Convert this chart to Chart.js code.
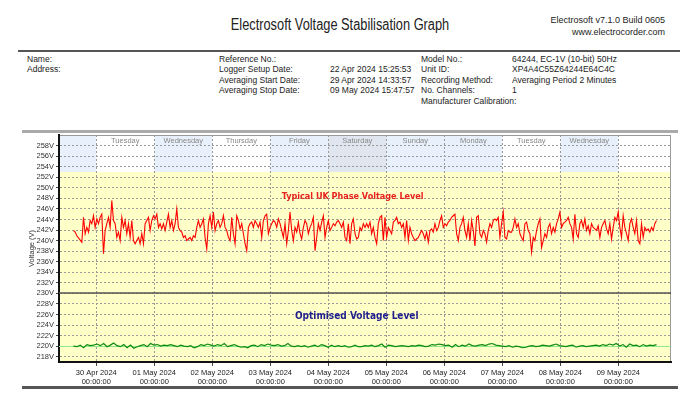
<!DOCTYPE html>
<html>
<head>
<meta charset="utf-8">
<script src="https://cdn.jsdelivr.net/npm/chart.js@4.4.1/dist/chart.umd.min.js"></script>
<style>
  body { margin: 0; background: #fff; width: 700px; height: 412px; overflow: hidden; position: relative;
         font-family: "Liberation Sans", Arial, sans-serif; color: #222; }
  #chart { position: absolute; left: 0; top: 0; }
  .t { position: absolute; font-size: 8.5px; line-height: 10px; white-space: nowrap; }
  .rule { position: absolute; }
  #title { position: absolute; left: 190px; width: 300px; top: 16px; text-align: center; font-size: 16px;
           transform: scaleX(0.8); transform-origin: 150px 0; }
</style>
</head>
<body>
<div id="title">Electrosoft Voltage Stabilisation Graph</div>
<div class="t" style="right:35px;top:15px;text-align:right;font-size:9px">Electrosoft v7.1.0 Build 0605</div>
<div class="t" style="right:35px;top:27px;text-align:right;font-size:9px">www.electrocorder.com</div>
<div class="rule" style="left:18px;width:662px;top:50px;height:2px;background:#555"></div>

<div class="t" style="left:27px;top:54px">Name:</div>
<div class="t" style="left:27px;top:64px">Address:</div>
<div class="t" style="left:219px;top:54px">Reference No.:</div>
<div class="t" style="left:219px;top:64px">Logger Setup Date:</div>
<div class="t" style="left:219px;top:75px">Averaging Start Date:</div>
<div class="t" style="left:219px;top:85px">Averaging Stop Date:</div>
<div class="t" style="left:330px;top:64px">22 Apr 2024 15:25:53</div>
<div class="t" style="left:330px;top:75px">29 Apr 2024 14:33:57</div>
<div class="t" style="left:330px;top:85px">09 May 2024 15:47:57</div>
<div class="t" style="left:421px;top:54px">Model No.:</div>
<div class="t" style="left:421px;top:64px">Unit ID:</div>
<div class="t" style="left:421px;top:75px">Recording Method:</div>
<div class="t" style="left:421px;top:85px">No. Channels:</div>
<div class="t" style="left:421px;top:96px">Manufacturer Calibration:</div>
<div class="t" style="left:512px;top:54px">64244, EC-1V (10-bit) 50Hz</div>
<div class="t" style="left:512px;top:64px">XP4A4C55Z64244E64C4C</div>
<div class="t" style="left:512px;top:75px">Averaging Period 2 Minutes</div>
<div class="t" style="left:512px;top:85px">1</div>

<div class="rule" style="left:22px;width:656px;top:130px;height:3px;background:#aaa"></div>
<div class="rule" style="left:22px;width:656px;top:386px;height:3px;background:#555"></div>

<canvas id="chart" width="700" height="412"></canvas>

<script>
// time is counted in days from 29 Apr 2024 00:00
const T0 = Date.UTC(2024, 3, 29);
function dayOf(y, m, d, h, mi, s) {
  return (Date.UTC(y, m - 1, d, h, mi, s) - T0) / 864e5;
}

const startDay = dayOf(2024, 4, 29, 14, 33, 57);
const stopDay = dayOf(2024, 5, 9, 15, 47, 57);

const dateLabels = ['30 Apr 2024', '01 May 2024', '02 May 2024', '03 May 2024', '04 May 2024',
  '05 May 2024', '06 May 2024', '07 May 2024', '08 May 2024', '09 May 2024'];
const dayNames = ['', 'Tuesday', 'Wednesday', 'Thursday', 'Friday', 'Saturday', 'Sunday',
  'Monday', 'Tuesday', 'Wednesday', ''];
const bandColours = ['#e8f0fb', '#ffffff', '#e8f0fb', '#ffffff', '#e8f0fb', '#e0e6f0',
  '#e8f0fb', '#e8f0fb', '#ffffff', '#e8f0fb', '#ffffff'];
const yTicks = [218, 220, 222, 224, 226, 228, 230, 232, 234, 236, 238, 240, 242, 244, 246,
  248, 250, 252, 254, 256, 258];

// unstabilised phase voltage (V)
const phaseVolts = [
  241.9, 241.6, 240.9, 240.5, 240.1, 239.7, 244.4, 241.3, 242.5, 241.6, 243.8, 243.2, 244.7, 242.5, 244.1,
  243.2, 244.4, 245.0, 237.5, 241.9, 243.2, 244.4, 242.5, 247.6, 243.8, 243.2, 240.6, 241.6, 240.0, 244.4,
  242.5, 243.8, 241.3, 243.2, 240.6, 243.8, 240.0, 239.4, 240.0, 240.6, 239.4, 241.3, 239.4, 243.2, 243.8,
  244.4, 241.9, 243.8, 244.7, 244.1, 245.0, 242.5, 243.2, 242.2, 243.2, 241.9, 243.5, 245.0, 242.5, 243.8,
  241.9, 243.2, 246.0, 242.5, 241.9, 241.6, 240.6, 240.9, 240.0, 240.3, 240.6, 240.0, 240.9, 240.6, 242.5,
  243.8, 242.5, 243.2, 244.1, 240.6, 238.4, 243.2, 244.7, 242.5, 245.4, 241.9, 243.2, 243.8, 242.5,
  243.2, 244.7, 242.5, 241.9, 240.6, 240.0, 244.4, 241.3, 239.4, 244.7, 243.8, 242.2, 243.2, 241.3, 239.4,
  238.1, 242.5, 243.2, 243.5, 242.5, 243.8, 243.2, 242.5, 243.5, 240.6, 243.8, 244.7, 245.0, 241.3, 242.5,
  243.2, 243.8, 243.5, 242.5, 244.1, 243.2, 241.9, 240.6, 243.2, 239.4, 241.9, 245.4, 241.9, 240.0, 242.5,
  241.6, 243.5, 241.3, 240.3, 242.5, 243.8, 243.2, 241.3, 242.5, 243.2, 244.4, 238.1, 240.6, 243.2, 241.9,
  243.5, 244.7, 240.6, 242.5, 243.8, 241.9, 242.5, 243.2, 242.8, 243.5, 243.8, 243.2, 242.5, 243.5, 240.6,
  240.0, 243.2, 239.4, 243.2, 244.1, 241.3, 240.3, 240.6, 242.5, 241.9, 243.2, 242.5,
  243.2, 242.5, 243.5, 241.3, 242.5, 240.6, 239.4, 243.2, 244.4, 244.7, 240.0, 244.4, 240.6, 242.5, 241.9,
  241.3, 243.5, 243.8, 244.4, 243.2, 243.5, 242.5, 243.2, 240.6, 243.8, 240.0, 242.5, 241.3, 240.6, 240.0,
  240.3, 240.6, 241.3, 241.9, 241.3, 240.3, 241.6, 239.7, 241.9, 242.2, 241.6, 243.2, 241.9, 242.5, 243.8,
  244.7, 242.5, 243.2, 242.8, 243.5, 243.8, 244.4, 244.7, 245.0, 241.3, 240.0, 242.5, 243.2, 244.4, 241.9,
  240.6, 243.2, 240.0, 243.8, 241.9, 239.0, 244.4, 244.7, 241.3, 240.6, 241.9, 241.3, 239.7, 241.9, 243.2,
  242.5, 243.8, 244.1, 243.8, 244.4, 240.6, 243.2, 245.4, 240.6, 240.3, 241.9, 241.6,
  241.6, 242.5, 244.1, 242.5, 243.2, 241.3, 240.6, 240.0, 243.2, 243.5, 241.9, 241.3, 237.8, 240.6, 240.0,
  241.9, 243.2, 244.1, 238.7, 240.0, 241.3, 240.6, 242.5, 243.2, 241.3, 242.5, 241.6, 243.2, 244.1, 245.4,
  242.5, 243.2, 243.5, 243.8, 244.4, 243.2, 242.5, 240.3, 245.0, 241.3, 240.6, 243.2, 243.8, 242.5, 244.1,
  241.9, 242.8, 241.3, 243.2, 242.5, 242.2, 241.9, 242.8, 240.6, 242.5, 243.2, 243.8, 242.2, 241.3, 243.2,
  240.3, 242.5, 244.4, 243.8, 245.4, 242.5, 240.6, 244.7, 242.5, 241.3, 240.0, 243.2, 244.1, 242.5, 241.3,
  243.8, 240.0, 239.4, 243.2, 240.6, 242.5, 241.9, 242.2, 241.6, 242.5, 241.9, 243.2, 243.8
];

// stabilised output voltage (V)
const optimisedVolts = [
  220.0, 219.9, 220.2, 219.7, 220.3, 220.1, 220.2, 220.4, 220.1, 220.5, 219.9, 220.2, 220.6, 220.1, 219.9,
  220.3, 219.7, 220.2, 219.6, 219.9, 220.1, 220.3, 219.9, 220.5, 220.2, 220.3, 220.0, 220.2, 220.1, 220.3,
  220.1, 219.9, 220.2, 220.0, 219.9, 220.1, 219.7, 219.9, 220.3, 220.1, 220.4, 220.2, 220.0, 220.3, 220.1,
  220.5, 219.9, 220.1, 220.3, 220.0, 219.8, 219.9, 219.7, 220.1, 220.2, 219.9, 220.3, 220.1, 220.4, 220.2,
  220.1, 220.3, 220.0, 220.1, 220.5, 220.0, 219.9, 220.1, 219.9, 220.1, 219.8, 220.0, 220.2, 219.9, 220.3,
  220.1, 219.8, 220.2, 219.9, 220.1, 219.9, 220.1, 219.8, 219.9, 220.2, 219.9, 219.9,
  220.1, 220.0, 220.2, 219.9, 220.1, 220.4, 219.8, 220.2, 220.1, 219.9, 220.0, 220.1,
  220.0, 219.9, 220.1, 220.0, 220.2, 220.1, 219.9, 220.0, 220.3, 220.2, 220.4, 220.3, 220.1, 220.2,
  219.8, 220.3, 219.9, 220.2, 220.0, 220.4, 220.1, 220.0, 220.2, 220.3, 220.1, 220.4, 220.5, 220.2,
  220.1, 220.0, 219.9, 220.1, 219.8, 220.0, 219.9, 219.7, 219.8, 220.0, 220.1, 219.9, 220.0, 220.2,
  220.1, 220.0, 220.2, 220.4, 220.1, 220.0, 219.9, 220.1, 220.2, 219.8, 220.0, 220.1, 219.9, 220.0,
  220.1, 220.2, 220.0, 220.3, 220.1, 220.4, 220.2, 220.5, 220.0, 220.3, 219.8, 220.4, 220.1, 220.2, 219.9,
  220.3, 220.0, 220.2, 220.1, 220.3
];

const yMin = 217, yMax = 260, shadeAbove = 253;
const nominalLine = 230, optimisedLine = 220;

function toPoints(vals) {
  const step = (stopDay - startDay) / (vals.length - 1);
  return vals.map((v, i) => ({ x: startDay + i * step, y: v }));
}

const smallFont = { family: '"Liberation Sans", Arial, sans-serif', size: 7.5 };

const backdrop = {
  id: 'backdrop',
  beforeDraw(chart) {
    const { ctx, chartArea: a, scales: { x, y } } = chart;
    ctx.save();
    const yb = y.getPixelForValue(shadeAbove);
    ctx.fillStyle = '#ffffc8';
    ctx.fillRect(a.left, yb, a.right - a.left, a.bottom - yb);
    for (let d = 0; d < bandColours.length; d++) {
      const x1 = Math.max(a.left, x.getPixelForValue(d));
      const x2 = Math.min(a.right, x.getPixelForValue(d + 1));
      ctx.fillStyle = bandColours[d];
      ctx.fillRect(x1, a.top, x2 - x1, yb - a.top);
    }
    ctx.strokeStyle = '#999';
    ctx.lineWidth = 1;
    ctx.strokeRect(a.left + 0.5, a.top + 0.5, a.right - a.left - 1, a.bottom - a.top - 1);
    ctx.restore();
  },
  beforeDatasetsDraw(chart) {
    const { ctx, chartArea: a, scales: { x, y } } = chart;
    ctx.save();
    ctx.font = '7.5px "Liberation Sans", Arial, sans-serif';
    ctx.fillStyle = '#888';
    ctx.textAlign = 'center';
    ctx.textBaseline = 'middle';
    dayNames.forEach((n, d) => {
      if (n) ctx.fillText(n, (x.getPixelForValue(d) + x.getPixelForValue(d + 1)) / 2, a.top + 6);
    });
    let py = Math.round(y.getPixelForValue(nominalLine));
    ctx.strokeStyle = '#555';
    ctx.lineWidth = 1.5;
    ctx.beginPath(); ctx.moveTo(a.left, py); ctx.lineTo(a.right, py); ctx.stroke();
    py = Math.round(y.getPixelForValue(optimisedLine)) + 0.5;
    ctx.strokeStyle = '#8ee88e';
    ctx.lineWidth = 1;
    ctx.beginPath(); ctx.moveTo(a.left, py); ctx.lineTo(a.right, py); ctx.stroke();
    ctx.restore();
  },
  afterDatasetsDraw(chart) {
    const { ctx, scales: { x, y } } = chart;
    ctx.save();
    ctx.textAlign = 'center';
    ctx.textBaseline = 'middle';
    ctx.font = 'bold 9px "DejaVu Sans Condensed", "Liberation Sans", sans-serif';
    ctx.fillStyle = '#e8201e';
    ctx.fillText('Typical UK Phase Voltage Level', x.getPixelForValue(5.42), y.getPixelForValue(248.4));
    ctx.font = 'bold 10px "DejaVu Sans Condensed", "Liberation Sans", sans-serif';
    ctx.fillStyle = '#1f1f8f';
    ctx.fillText('Optimised Voltage Level', x.getPixelForValue(5.49), y.getPixelForValue(225.6));
    ctx.restore();
  }
};

new Chart(document.getElementById('chart'), {
  type: 'line',
  data: {
    datasets: [
      { label: 'Phase', data: toPoints(phaseVolts), borderColor: '#ff0000', borderWidth: 1.1,
        pointRadius: 0, tension: 0 },
      { label: 'Optimised', data: toPoints(optimisedVolts), borderColor: '#0e8a0e', borderWidth: 1.2,
        pointRadius: 0, tension: 0 }
    ]
  },
  options: {
    responsive: false,
    animation: false,
    layout: { padding: { left: 0, top: 135, right: 29, bottom: 20 } },
    plugins: { legend: { display: false }, tooltip: { enabled: false } },
    scales: {
      x: {
        type: 'linear',
        min: startDay - 0.25,
        max: stopDay + 0.25,
        afterFit(s) { s.height = 30; },
        afterBuildTicks(s) { s.ticks = dateLabels.map((_, i) => ({ value: i + 1 })); },
        ticks: {
          autoSkip: false, maxRotation: 0, padding: 2, color: '#222', font: smallFont,
          callback: (v) => [dateLabels[v - 1], '00:00:00']
        },
        grid: { color: '#999', lineWidth: 1, drawTicks: true, tickLength: 4, tickColor: '#444' },
        border: { display: true, color: '#111', width: 2, dash: [2, 2] }
      },
      y: {
        min: yMin,
        max: yMax,
        afterFit(s) { s.width = 59; },
        afterBuildTicks(s) { s.ticks = yTicks.map((v) => ({ value: v })); },
        ticks: { autoSkip: false, padding: 2, color: '#333', font: smallFont, callback: (v) => v + 'V' },
        grid: { color: '#999', lineWidth: 1, drawTicks: true, tickLength: 3, tickColor: '#444' },
        border: { display: true, color: '#111', width: 2, dash: [2, 2] },
        title: { display: true, text: 'Voltage (V)', color: '#333', font: smallFont,
                 padding: { top: 27, bottom: 0 } }
      }
    }
  },
  plugins: [backdrop]
});
</script>
</body>
</html>
